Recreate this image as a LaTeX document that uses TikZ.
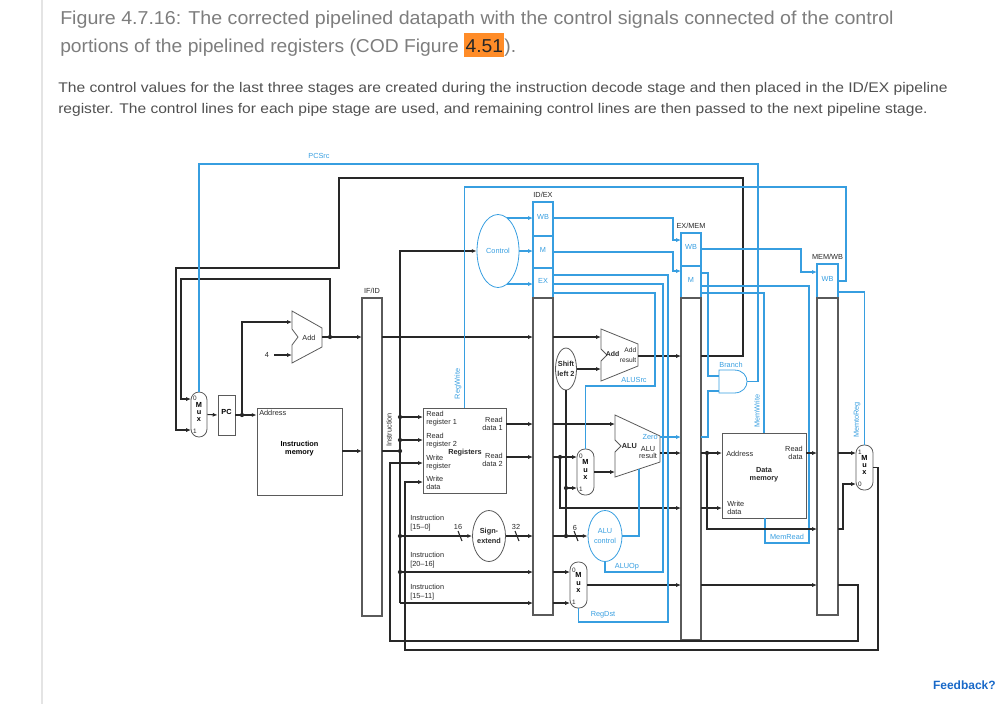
\documentclass[tikz,border=0pt]{standalone}
\usepackage{fontspec}
\setmainfont{Liberation Sans}
\usepackage{graphicx}
\usetikzlibrary{positioning,fit,arrows.meta,shapes.geometric}
\setlength{\fboxsep}{1pt}

\definecolor{ctrl}{RGB}{55,158,224}
\definecolor{wirec}{RGB}{40,40,40}
\definecolor{boxc}{RGB}{90,90,90}
\definecolor{headc}{RGB}{125,125,125}
\definecolor{bodyc}{RGB}{80,80,80}
\definecolor{hilite}{RGB}{255,140,40}
\definecolor{fbc}{RGB}{25,105,200}
\definecolor{rulec}{RGB}{228,228,228}

\newcommand{\dpfont}{\fontsize{5.5}{5.9}\selectfont}

\tikzset{
  wire/.style={draw=wirec, line width=0.8pt},
  sig/.style={draw=ctrl, line width=0.8pt},
  hd/.style={-{Latex[length=3.6pt,width=3pt]}},
  pipereg/.style={draw=boxc, line width=0.8pt, inner sep=0pt},
  ctrlreg/.style={draw=ctrl, line width=0.8pt, inner sep=0pt, font=\dpfont, text=ctrl},
  unitbox/.style={draw=boxc, line width=0.6pt, inner sep=0pt, font=\dpfont\bfseries, align=center},
  muxbox/.style={draw=boxc, line width=0.6pt, inner sep=0pt, rounded corners=6pt, font=\fontsize{5.5}{5.6}\selectfont\bfseries, align=center},
  muxnum/.style={font=\fontsize{4.8}{5}\selectfont, inner sep=0pt, text=wirec},
  unitell/.style={ellipse, draw=boxc, line width=0.6pt, inner sep=0pt},
  ctrlell/.style={ellipse, draw=ctrl, line width=0.6pt, inner sep=0pt},
  lbl/.style={font=\dpfont, inner sep=0pt, align=left, text=wirec},
  blbl/.style={lbl, font=\dpfont\bfseries},
  clbl/.style={lbl, text=ctrl},
  jdot/.style={circle, fill=wirec, inner sep=0pt, minimum size=3.2pt},
  headtxt/.style={anchor=base west, inner sep=0pt, text=headc, font=\fontsize{14}{16}\selectfont},
  bodytxt/.style={anchor=base west, inner sep=0pt, text=bodyc, font=\fontsize{10.5}{12}\selectfont},
}

\begin{document}
\begin{tikzpicture}[x=0.75pt,y=-0.75pt]
\useasboundingbox (0,0) rectangle (1002,704);
\draw[rulec, line width=0.8pt] (42,0) -- (42,704);

% page text
\node[headtxt] (title1) at (60,24) {\resizebox{625pt}{\height}{Figure 4.7.16: The corrected pipelined datapath with the control signals connected of the control}};
\node[headtxt] (title2) at (60,52) {\resizebox{342pt}{\height}{portions of the pipelined registers (COD Figure \colorbox{hilite}{\rule[-3pt]{0pt}{16.5pt}\textcolor{black!85}{4.51}}).}};
\node[bodytxt] (body1) at (58,92) {\resizebox{667pt}{\height}{The control values for the last three stages are created during the instruction decode stage and then placed in the ID/EX pipeline}};
\node[bodytxt] (body2) at (58,113) {\resizebox{652pt}{\height}{register. The control lines for each pipe stage are used, and remaining control lines are then passed to the next pipeline stage.}};
\node[font=\fontsize{9}{10}\selectfont\bfseries, text=fbc, anchor=east, inner sep=0pt] (feedback) at (996,685) {Feedback?};

% pipeline registers
\node[pipereg, fit={(362,298) (382,616)}] (ifid) {};
\node[lbl, above=2.5pt of ifid] {IF/ID};
\node[ctrlreg, fit={(533,202) (553,236)}] (idexwb) {WB};
\node[ctrlreg, fit={(533,236) (553,268)}] (idexm) {M};
\node[ctrlreg, fit={(533,268) (553,298)}] (idexex) {EX};
\node[pipereg, fit={(533,298) (553,615)}] (idex) {};
\node[lbl, above=2.5pt of idexwb] {ID/EX};
\node[ctrlreg, fit={(681,233) (701,266)}] (exmemwb) {WB};
\node[ctrlreg, fit={(681,266) (701,298)}] (exmemm) {M};
\node[pipereg, fit={(681,298) (701,640)}] (exmem) {};
\node[lbl, above=2.5pt of exmemwb] {EX/MEM};
\node[ctrlreg, fit={(817,264) (838,298)}] (memwbwb) {WB};
\node[pipereg, fit={(817,298) (838,615)}] (memwb) {};
\node[lbl, above=2.5pt of memwbwb] {MEM/WB};

% fetch
\node[muxbox, fit={(191,392) (207,437)}] (pcmux) {M\\u\\x};
\node[muxnum] at (195,398) {0};
\node[muxnum] at (195,431) {1};
\node[unitbox, fit={(218,395) (235,435)}] (pc) {PC};
\node[unitbox, fit={(257,408) (342,495)}] (imem) {Instruction\\memory};
\node[lbl, anchor=west] at (259,413) {Address};
\draw[unitbox] (292,311) -- (322,328) -- (322,347) -- (292,363) -- (292,345) -- (298,337) -- (292,329) -- cycle;
\node[lbl] (pcadd) at (309,338) {Add};
\node[lbl] (four) at (267,355) {4};

\draw[wire,hd] (pcmux.east) -- (pc.west);
\draw[wire,hd] (pc.east) -- (imem.west |- pc.east);
\node[jdot] (pcdot) at (242,415) {};
\draw[wire,hd] (pcdot) |- (292,322);
\draw[wire,hd] (274,355) -- (292,355);
\node[jdot] (adddot) at (330,337) {};
\draw[wire,hd] (322,337) -- (362,337);
\draw[wire,hd] (adddot) |- (181,279) |- (191,399);
\draw[wire,hd] (342,451) -- (362,451);
\draw[wire,hd] (701,356) -- (743,356) -- (743,178) -- (339,178) -- (339,268) -- (176,268) -- (176,430) -- (191,430);

% decode
\node[ctrlell, minimum width=31.5pt, minimum height=54.75pt] (control) at (498,251) {};
\node[clbl] at (control) {Control};
\node[unitbox, fit={(423,408) (506,493)}] (regs) {};
\node[lbl, anchor=west] at (426,418.5) {Read\\register 1};
\node[lbl, anchor=west] at (426,440.5) {Read\\register 2};
\node[lbl, anchor=west] at (426,463) {Write\\register};
\node[lbl, anchor=west] at (426,482.5) {Write\\data};
\node[lbl, anchor=east, align=right] at (503,423.5) {Read\\data 1};
\node[lbl, anchor=east, align=right] at (503,459.5) {Read\\data 2};
\node[blbl] at (465,453) {Registers};
\node[unitell, minimum width=24.75pt, minimum height=38.25pt] (signext) at (489,536) {};
\node[blbl, align=center, font=\fontsize{5.5}{7}\selectfont\bfseries] at (signext) {Sign-\\extend};
\node[lbl, rotate=90] at (389,430) {Instruction};
\node[lbl, font=\fontsize{5.5}{6.8}\selectfont] at (410,523.5) [anchor=west] {Instruction\\{[15--0]}};
\node[lbl, font=\fontsize{5.5}{6.8}\selectfont] at (410,560.5) [anchor=west] {Instruction\\{[20--16]}};
\node[lbl, font=\fontsize{5.5}{6.8}\selectfont] at (410,592) [anchor=west] {Instruction\\{[15--11]}};
\node[lbl] at (458,527) {16};
\node[lbl] at (516,527) {32};

\draw[wire] (382,451) -- (400,451);
\draw[wire,hd] (400,603) -- (400,251) -- (control.west);
\foreach \y in {417,440,451,536,572} \node[jdot] at (400,\y) {};
\draw[wire,hd] (400,417) -- (423,417);
\draw[wire,hd] (400,440) -- (423,440);
\draw[wire,hd] (400,536) -- (signext.west);
\draw[wire,hd] (400,572) -- (533,572);
\draw[wire,hd] (400,603) -- (533,603);
\draw[wire,hd] (382,337) -- (533,337);
\draw[wire,hd] (506,424) -- (533,424);
\draw[wire,hd] (506,457) -- (533,457);
\draw[wire,hd] (signext.east) -- (533,536);
\draw[wire] (458,531) -- (462,541);
\draw[wire] (515,531) -- (519,541);
\draw[sig,hd] (507,218) -- (533,218);
\draw[sig,hd] (control.east) -- (533,251);
\draw[sig,hd] (507,284) -- (533,284);

% execute
\node[unitell, minimum width=15.75pt, minimum height=31.5pt] (shl) at (566,369) {};
\node[blbl, align=center, font=\fontsize{5.5}{7}\selectfont\bfseries] at (shl) {Shift\\left 2};
\draw[unitbox] (601,329) -- (638,344) -- (638,366) -- (601,381) -- (601,361) -- (607,355) -- (601,349) -- cycle;
\node[blbl, anchor=west, font=\fontsize{5.2}{5.6}\selectfont\bfseries] at (605.5,354) {Add};
\node[lbl, anchor=east, align=right, font=\fontsize{5}{7}\selectfont] at (636.5,355) {Add\\result};
\draw[unitbox] (615,415) -- (660,436) -- (660,462) -- (615,477) -- (615,452) -- (621,446) -- (615,440) -- cycle;
\node[blbl, anchor=west] (alu) at (621.5,446) {ALU};
\node[clbl, anchor=east] at (658,437) {Zero};
\node[lbl, align=center] at (648,452.5) {ALU\\result};
\node[muxbox, fit={(577,449) (594,495)}] (alumux) {M\\u\\x};
\node[muxnum] at (581,456) {0};
\node[muxnum] at (581,489) {1};
\node[ctrlell, minimum width=25.5pt, minimum height=38.25pt] (aluctl) at (605,536) {};
\node[clbl, align=center, font=\fontsize{5.5}{6.8}\selectfont] at (aluctl) {ALU\\control};
\node[muxbox, fit={(570,562) (587,608)}] (rdmux) {M\\u\\x};
\node[muxnum] at (574,570) {0};
\node[muxnum] at (574,602) {1};
\node[lbl] at (575,528) {6};
\node[clbl] at (634,380) {ALUSrc};
\node[clbl] at (627,567) {ALUOp};
\node[clbl] at (603,615) {RegDst};

\draw[wire,hd] (553,337) -- (601,337);
\draw[wire,hd] (shl.east) -- (601,369);
\draw[wire,hd] (553,424) -- (615,424);
\draw[wire,hd] (553,457) -- (577,457);
\node[jdot] at (560,457) {};
\draw[wire,hd] (560,457) |- (681,508);
\draw[wire,hd] (553,536) -- (aluctl.west);
\node[jdot] at (566,536) {};
\node[jdot] at (566,488) {};
\draw[wire] (566,536) -- (shl.south);
\draw[wire,hd] (566,488) -- (577,488);
\draw[wire] (574,531) -- (578,541);
\draw[wire,hd] (alumux.east) -- (615,472);
\draw[wire,hd] (660,453) -- (681,453);
\draw[wire,hd] (638,356) -- (681,356);
\draw[sig,hd] (660,437) -- (681,437);
\draw[wire,hd] (553,572) -- (570,572);
\draw[wire,hd] (553,603) -- (570,603);
\draw[wire,hd] (rdmux.east) -- (681,585);
\draw[sig] (aluctl.east) -| (639,469);
\draw[sig,hd] (553,218) -- (673,218) -- (673,240) -- (681,240);
\draw[sig,hd] (553,252) -- (673,252) -- (673,271) -- (681,271);
\draw[sig] (553,275) -- (668,275) -- (668,622) -| (rdmux.south);
\draw[sig] (553,284) -- (663,284) -- (663,572) -| (aluctl.south);
\draw[sig] (553,293) -- (655,293) -- (655,386) -| (alumux.north);

% memory
\node[unitbox, fit={(722,433) (806,518)}] (dmem) {};
\node[blbl, align=center] at (764,475) {Data\\memory};
\node[lbl, anchor=west] at (726,454) {Address};
\node[lbl, anchor=east, align=right] at (803,452.5) {Read\\data};
\node[lbl, anchor=west] at (727,507.5) {Write\\data};
\draw[draw=ctrl, line width=0.6pt] (719,370) -- (734,370) .. controls (743,370) and (747,376) .. (747,381.5) .. controls (747,387) and (743,393) .. (734,393) -- (719,393) -- cycle;
\node[clbl] at (731,365) {Branch};
\node[clbl, rotate=90] at (757,411) {MemWrite};
\node[clbl] at (787,537) {MemRead};
\node[clbl] at (319,156) {PCSrc};

\draw[sig,hd] (701,249) -- (801,249) -- (801,272) -- (817,272);
\draw[sig] (701,273) -- (708,273) -- (708,376) -- (719,376);
\draw[sig] (701,286) -- (809,286) -- (809,543) -- (765,543) -- (765,518);
\draw[sig] (701,293) -- (764,293) -- (764,433);
\draw[sig] (701,437) -- (708,437) -- (708,391) -- (719,391);
\draw[sig] (747,381.5) -| (758,164) -| (pcmux.north);
\draw[wire,hd] (701,453) -- (722,453);
\node[jdot] at (707,453) {};
\draw[wire,hd] (707,453) |- (817,529);
\draw[wire,hd] (701,508) -- (722,508);
\draw[wire,hd] (701,585) -- (817,585);
\draw[wire,hd] (806,453) -- (817,453);

% write back
\node[muxbox, fit={(856,445) (873,490)}] (wbmux) {M\\u\\x};
\node[muxnum] at (860,452) {1};
\node[muxnum] at (860,484) {0};
\node[clbl, rotate=90] at (857,420) {MemtoReg};
\node[clbl, rotate=90] at (458,384) {RegWrite};
\draw[sig] (838,292) -| (wbmux.north);
\draw[sig] (838,281) -| (846,187) -| (regs.north);
\draw[wire,hd] (838,453) -- (856,453);
\draw[wire,hd] (838,529) -- (843,529) -- (843,484) -- (856,484);
\draw[wire,hd] (838,585) -| (858,641) -| (390,463) -- (423,463);
\draw[wire,hd] (wbmux.east) -| (878,650) -| (405,482) -- (423,482);
\end{tikzpicture}
\end{document}
